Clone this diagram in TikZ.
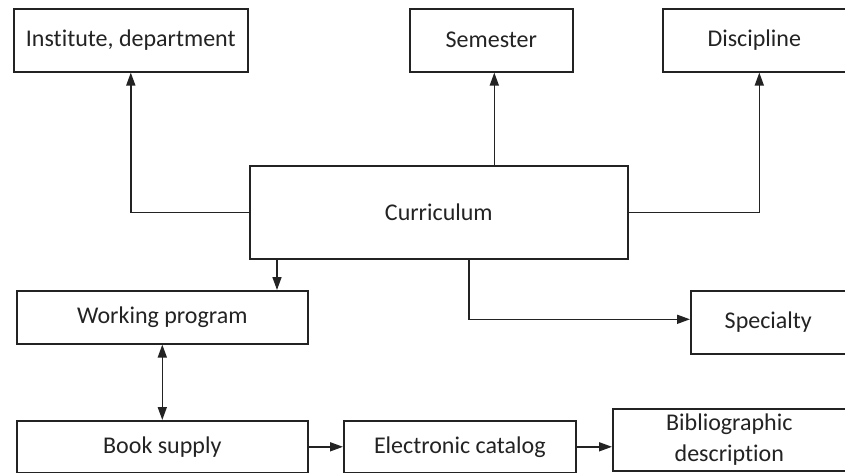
\documentclass[tikz,border=0pt]{standalone}
\usepackage{fontspec}
\setmainfont{Carlito}[Ligatures=CommonOff]
\usetikzlibrary{arrows.meta}
\definecolor{ink}{RGB}{35,35,35}
\begin{document}
\begin{tikzpicture}[x=1pt,y=-1pt,
  box/.style={draw=ink, line width=1.6pt, rectangle, inner sep=0pt, anchor=north west,
    text=ink, font=\fontsize{24}{31}\selectfont, align=center},
  arr/.style={draw=ink, line width=1.6pt, -{Triangle[length=13pt,width=9pt]}},
  darr/.style={draw=ink, line width=1.6pt, {Triangle[length=13pt,width=9pt]}-{Triangle[length=13pt,width=9pt]}}]
\useasboundingbox[fill=white] (0,0) rectangle (845,473);
\node[box, minimum width=234pt, minimum height=63pt] (inst) at (13,8) {Institute, department};
\node[box, minimum width=163pt, minimum height=63pt] (sem) at (409,8) {Semester};
\node[box, minimum width=183pt, minimum height=63pt] (disc) at (662,8) {Discipline};
\node[box, minimum width=378pt, minimum height=93pt] (curr) at (249,165) {Curriculum};
\node[box, minimum width=291pt, minimum height=53pt] (wp) at (16,290) {Working program};
\node[box, minimum width=155pt, minimum height=63pt] (spec) at (690,290) {Specialty};
\node[box, minimum width=291pt, minimum height=52pt] (book) at (16,420) {Book supply};
\node[box, minimum width=232pt, minimum height=52pt] (elec) at (343,420) {Electronic catalog};
\node[box, minimum width=233pt, minimum height=62pt] (bib) at (612,408) {Bibliographic\\description};
\draw[arr] (curr.west) -| (inst.south);
\draw[arr] ([xshift=3pt]sem.south |- curr.north) -- ([xshift=3pt]sem.south);
\draw[arr] (curr.east) -| ([xshift=5pt]disc.south);
\draw[arr] ([xshift=28pt]curr.south west) -- ([xshift=28pt]curr.south west |- wp.north);
\draw[arr] ([xshift=220pt]curr.south west) |- ([yshift=3pt]spec.west);
\draw[darr] (wp.south) -- (book.north);
\draw[arr] (book.east) -- (elec.west);
\draw[arr] (elec.east) -- (elec.east -| bib.west);
\end{tikzpicture}
\end{document}
